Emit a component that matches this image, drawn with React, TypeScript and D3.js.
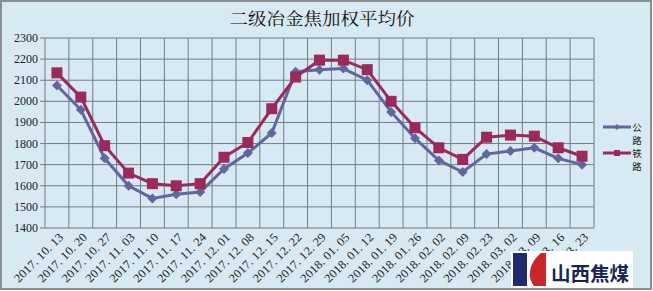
import React from "react";
import * as d3 from "d3";

const categories = [
  "2017. 10. 13", "2017. 10. 20", "2017. 10. 27", "2017. 11. 03", "2017. 11. 10",
  "2017. 11. 17", "2017. 11. 24", "2017. 12. 01", "2017. 12. 08", "2017. 12. 15",
  "2017. 12. 22", "2017. 12. 29", "2018. 01. 05", "2018. 01. 12", "2018. 01. 19",
  "2018. 01. 26", "2018. 02. 02", "2018. 02. 09", "2018. 02. 23", "2018. 03. 02",
  "2018. 03. 09", "2018. 03. 16", "2018. 03. 23",
];
const roadValues = [
  2075, 1960, 1730, 1600, 1540, 1560, 1570, 1680, 1755, 1850, 2140, 2150,
  2155, 2100, 1950, 1825, 1720, 1665, 1750, 1765, 1780, 1730, 1700,
];
const railValues = [
  2135, 2020, 1790, 1660, 1610, 1600, 1610, 1735, 1805, 1965, 2115, 2195,
  2195, 2150, 2000, 1875, 1780, 1725, 1830, 1840, 1835, 1780, 1740,
];
const yTicks = [1400, 1500, 1600, 1700, 1800, 1900, 2000, 2100, 2200, 2300];
const title = "二级冶金焦加权平均价";
const seriesNames = ["公路", "铁路"];

const W = 653;
const H = 291;
const left = 45;
const right = 594;
const top = 38;
const bottom = 228;
const roadColor = "#61679a";
const railColor = "#9b2a5c";
const gridColor = "#6f7d86";

export default function App() {
  const x = d3.scaleBand<string>().domain(categories).range([left, right]);
  const y = d3.scaleLinear().domain([1400, 2300]).range([bottom, top]);
  const cx = (c: string) => (x(c) as number) + x.bandwidth() / 2;
  const line = d3
    .line<number>()
    .x((_, i) => cx(categories[i]))
    .y((v) => y(v));
  const font = "'Liberation Serif', 'DejaVu Serif', serif";
  const cjk = "'Noto Sans CJK SC', sans-serif";

  return (
    <svg
      width={W}
      height={H}
      style={{ position: "absolute", left: 0, top: 0, display: "block" }}
    >
      <defs>
        <clipPath id="frame">
          <rect x={2} y={2} width={W - 5} height={H - 5} />
        </clipPath>
      </defs>
      <rect x={1} y={1} width={W - 3} height={H - 3} fill="#d7e9f2" />
      <text
        x={322}
        y={25}
        textAnchor="middle"
        fontFamily="'Noto Serif CJK SC', 'Noto Sans CJK SC', serif"
        fontSize={17}
        textLength={185}
        lengthAdjust="spacingAndGlyphs"
        fill="#111"
      >
        {title}
      </text>
      {/* horizontal grid */}
      {yTicks.map((t) => (
        <g key={t}>
          <line x1={left - 5} x2={right} y1={y(t)} y2={y(t)} stroke={gridColor} strokeWidth={1} />
          <text x={38} y={y(t) + 4} textAnchor="end" fontFamily={font} fontSize={12} fill="#222">
            {t}
          </text>
        </g>
      ))}
      {/* vertical grid */}
      {categories.map((c) => (
        <line
          key={c}
          x1={x(c) as number}
          x2={x(c) as number}
          y1={top}
          y2={bottom}
          stroke={gridColor}
          strokeWidth={1}
        />
      ))}
      <line x1={right} x2={right} y1={top} y2={bottom} stroke={gridColor} strokeWidth={1} />
      {/* x labels */}
      <g clipPath="url(#frame)">
        {categories.map((c) => (
          <text
            key={c}
            transform={`translate(${cx(c) + 7},${bottom + 10}) rotate(-45)`}
            textAnchor="end"
            fontFamily={font}
            fontSize={12}
            textLength={64}
            lengthAdjust="spacingAndGlyphs"
            fill="#222"
          >
            {c}
          </text>
        ))}
      </g>
      {/* road series */}
      <path d={line(roadValues) as string} fill="none" stroke={roadColor} strokeWidth={3} />
      {roadValues.map((v, i) => {
        const px = cx(categories[i]);
        const py = y(v);
        return (
          <path
            key={i}
            d={`M${px},${py - 5}L${px + 5},${py}L${px},${py + 5}L${px - 5},${py}Z`}
            fill={roadColor}
          />
        );
      })}
      {/* rail series */}
      <path d={line(railValues) as string} fill="none" stroke={railColor} strokeWidth={3} />
      {railValues.map((v, i) => {
        const px = cx(categories[i]);
        const py = y(v);
        return <rect key={i} x={px - 5.5} y={py - 5.5} width={11} height={11} fill={railColor} />;
      })}
      {/* legend */}
      <g>
        <line x1={603} x2={631} y1={127} y2={127} stroke={roadColor} strokeWidth={3} />
        <path d="M617,124L620,127L617,130L614,127Z" fill={roadColor} />
        <text x={637} y={131} textAnchor="middle" fontFamily={cjk} fontSize={9.5} fill="#222">
          {seriesNames[0][0]}
        </text>
        <text x={637} y={144} textAnchor="middle" fontFamily={cjk} fontSize={9.5} fill="#222">
          {seriesNames[0][1]}
        </text>
        <line x1={603} x2={631} y1={153} y2={153} stroke={railColor} strokeWidth={3} />
        <rect x={614} y={150} width={6} height={6} fill={railColor} />
        <text x={637} y={157} textAnchor="middle" fontFamily={cjk} fontSize={9.5} fill="#222">
          {seriesNames[1][0]}
        </text>
        <text x={637} y={170} textAnchor="middle" fontFamily={cjk} fontSize={9.5} fill="#222">
          {seriesNames[1][1]}
        </text>
      </g>
      {/* logo */}
      <g>
        <rect x={511} y={251} width={122} height={37} fill="#ffffff" />
        <rect x={513} y={253} width={14} height={33} fill="#1d2b6e" />
        <path d="M534,286 C526,276 530,262 541,253 L546,253 L546,286 Z" fill="#c8282a" />
        <text x={551} y={281} fontFamily={cjk} fontWeight="bold" fontSize={19} fill="#1a2452" textLength={78} lengthAdjust="spacingAndGlyphs">
          山西焦煤
        </text>
      </g>
      <rect x={1} y={1} width={W - 3} height={H - 3} fill="none" stroke="#8a8f93" strokeWidth={2} />
    </svg>
  );
}
